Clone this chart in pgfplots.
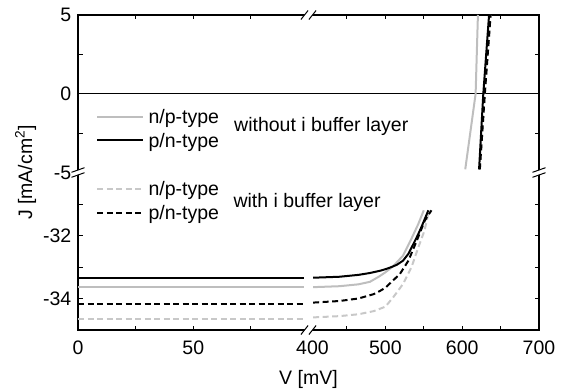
\documentclass[border=0pt]{standalone}
\usepackage{fontspec}
\setmainfont{Liberation Sans}
\usepackage{pgfplots}
\pgfplotsset{compat=1.18}
\definecolor{lgray}{RGB}{190,190,190}
\definecolor{dgray}{RGB}{200,200,200}
\newcommand{\ff}{\fontsize{19.5bp}{23bp}\selectfont}
\begin{document}
\ff
\begin{tikzpicture}[x=1bp,y=1bp]
\begin{axis}[
  at={(0,0)}, anchor=south west,
  scale only axis, width=461bp, height=315bp,
  xmin=0, xmax=200, ymin=-15, ymax=5,
  x filter/.expression={x<=200 ? x : 100+(x-400)/3},
  y filter/.expression={y>=-10 ? y : -5+2*(y+30)},
  xtick={0,25,50,75,116.6667,133.3333,150,166.6667,183.3333,200},
  xticklabels={0,,50,,,500,,600,,700},
  extra x ticks={100}, extra x tick labels={400},
  extra x tick style={major tick length=0pt, xticklabel style={xshift=4bp}},
  ytick={5,2.5,0,-2.5,-5,-7,-9,-11,-13},
  yticklabels={5,,0,,-5,,-32,,-34},
  tick label style={font=\ff},
  xticklabel style={yshift=-4bp},
  axis line style={line width=1.3bp},
  major tick style={line width=1bp, black},
  major tick length=4.5bp,
  every axis plot/.append style={line width=2bp, line join=round},
]
% zero line
\addplot[black, line width=1.3bp] coordinates {(0,0) (700,0)};
% with i buffer layer, n/p-type (gray dashed)
\addplot[dgray, dash pattern=on 6bp off 3.5bp] coordinates {(0,-34.64) (98,-34.64)};
\addplot[dgray, dash pattern=on 6bp off 3.5bp] coordinates {
(406,-34.6) (440,-34.56) (465,-34.5) (485,-34.4) (500,-34.26) (510,-33.97) (523,-33.54) (534,-33.01) (543,-32.37) (551,-31.84) (557,-31.2)};
\addplot[dgray, dash pattern=on 6bp off 3.5bp] coordinates {(623,-4.8) (629.5,0) (637,5)};
% without i buffer layer, n/p-type (gray solid)
\addplot[lgray] coordinates {(0,-33.65) (98,-33.65)};
\addplot[lgray] coordinates {
(406,-33.64) (440,-33.61) (465,-33.55) (480,-33.47) (492,-33.3) (500,-33.17) (510,-32.98) (523,-32.64) (534,-32.1) (543,-31.63) (550,-31.2)};
\addplot[lgray] coordinates {(604,-4.8) (617.5,0) (620.5,5)};
% with i buffer layer, p/n-type (black dashed)
\addplot[black, dash pattern=on 6bp off 3.5bp] coordinates {(0,-34.18) (98,-34.18)};
\addplot[black, dash pattern=on 6bp off 3.5bp] coordinates {
(406,-34.13) (440,-34.08) (465,-34.0) (485,-33.86) (493,-33.76) (500,-33.66) (506,-33.52) (519,-33.22) (530,-32.8) (541,-32.16) (551.5,-31.52) (560,-31.2)};
\addplot[black, dash pattern=on 6bp off 3.5bp] coordinates {(623,-4.8) (629.5,0) (637,5)};
% without i buffer layer, p/n-type (black solid)
\addplot[black] coordinates {(0,-33.36) (98,-33.36)};
\addplot[black] coordinates {
(406,-33.34) (440,-33.31) (465,-33.25) (480,-33.19) (493,-33.12) (500,-33.07) (506,-33.02) (515,-32.93) (523,-32.8) (530,-32.58) (536.5,-32.27) (542,-32.0) (547,-31.73) (556,-31.2)};
\addplot[black] coordinates {(622,-4.8) (627.5,0) (635,5)};
\end{axis}
% axis labels
\node[font=\ff, anchor=center] at (230.5,-49.5) {V [mV]};
\node[font=\ff, anchor=center, rotate=90] at (-52.3,157.5) {J [mA/cm\textsuperscript{2}]};
% axis breaks
\begin{scope}[line width=1bp]
\foreach \cx/\cy in {230.5/315, 230.5/0} {
  \fill[white] (\cx-4-3.6,\cy-4.5) -- (\cx-4+3.6,\cy+4.5) -- (\cx+4+3.6,\cy+4.5) -- (\cx+4-3.6,\cy-4.5) -- cycle;
  \draw (\cx-4-3.6,\cy-4.5) -- (\cx-4+3.6,\cy+4.5);
  \draw (\cx+4-3.6,\cy-4.5) -- (\cx+4+3.6,\cy+4.5);
}
\foreach \cx/\cy in {0/157.5, 461/157.5} {
  \fill[white] (\cx-6.5,\cy-2.5-2.3) -- (\cx+6.5,\cy-2.5+2.3) -- (\cx+6.5,\cy+2.5+2.3) -- (\cx-6.5,\cy+2.5-2.3) -- cycle;
  \draw (\cx-6.5,\cy-2.5-2.3) -- (\cx+6.5,\cy-2.5+2.3);
  \draw (\cx-6.5,\cy+2.5-2.3) -- (\cx+6.5,\cy+2.5+2.3);
}
\end{scope}
% legend
\draw[lgray, line width=2bp] (19.3,213.3) -- (65.3,213.3);
\draw[black, line width=2bp] (19.3,190) -- (65.3,190);
\draw[dgray, line width=2bp, dash pattern=on 6bp off 3.5bp] (19.3,141) -- (65.3,141);
\draw[black, line width=2bp, dash pattern=on 6bp off 3.5bp] (19.3,117.3) -- (65.3,117.3);
\node[anchor=base west, inner sep=0pt, font=\ff] at (70.3,206.7) {n/p-type};
\node[anchor=base west, inner sep=0pt, font=\ff] at (70.3,182.7) {p/n-type};
\node[anchor=base west, inner sep=0pt, font=\ff] at (70.3,135) {n/p-type};
\node[anchor=base west, inner sep=0pt, font=\ff] at (70.3,111) {p/n-type};
\node[anchor=base west, inner sep=0pt, font=\ff] at (156,198.3) {without i buffer layer};
\node[anchor=base west, inner sep=0pt, font=\ff] at (155.3,122.3) {with i buffer layer};
\pgfresetboundingbox
\path (-78,-60) rectangle (485,330);
\end{tikzpicture}
\end{document}
